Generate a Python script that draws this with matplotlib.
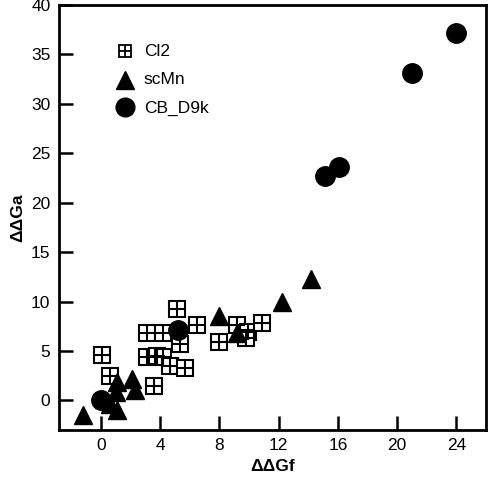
import matplotlib.pyplot as plt

plt.rcParams['font.family'] = ['Liberation Sans', 'DejaVu Sans']

# Cl2 points
cl2_x = [0.1, 0.6, 3.1, 4.2, 3.1, 3.8, 4.2, 4.65, 5.7, 3.6, 5.1, 6.5, 5.3, 8.0, 9.2, 9.9, 9.8, 10.9]
cl2_y = [4.6, 2.5, 6.8, 6.8, 4.4, 4.5, 4.4, 3.5, 3.3, 1.5, 9.2, 7.6, 5.7, 5.9, 7.6, 6.9, 6.3, 7.8]

# scMn points
scmn_x = [-1.2, 1.1, 2.1, 2.3, 1.0, 1.1, 0.6, 8.0, 9.2, 12.2, 14.2]
scmn_y = [-1.5, 1.9, 2.2, 1.1, 0.8, -1.0, -0.4, 8.5, 6.8, 9.9, 12.3]

# CB_D9k points
cb_x = [0.0, 5.2, 15.1, 16.1, 21.0, 24.0]
cb_y = [0.0, 7.1, 22.7, 23.6, 33.1, 37.1]

xticks = [0, 4, 8, 12, 16, 20, 24]
yticks = [0, 5, 10, 15, 20, 25, 30, 35, 40]

fig = plt.figure(figsize=(4.9, 4.8), dpi=100)
ax = fig.add_axes([0.120, 0.104, 0.872, 0.886])

ax.plot(cl2_x, cl2_y, 's', ms=12, mfc='white', mec='black', mew=1.5, zorder=2)
ax.plot(cl2_x, cl2_y, '+', ms=12, mec='black', mew=1.5, zorder=2)
ax.plot(scmn_x, scmn_y, '^', ms=13.5, color='black', zorder=3)
ax.plot(cb_x, cb_y, 'o', ms=14, color='black', zorder=4)

# legend drawn by hand to get the combined square/plus glyph
leg_x, leg_t = 1.6, 2.9
ax.plot([leg_x], [35.3], 's', ms=9, mfc='white', mec='black', mew=1.3)
ax.plot([leg_x], [35.3], '+', ms=9, mec='black', mew=1.3)
ax.plot([leg_x], [32.4], '^', ms=13, color='black')
ax.plot([leg_x], [29.7], 'o', ms=13.5, color='black')
for yy, lab in zip([35.3, 32.4, 29.5], ['Cl2', 'scMn', 'CB_D9k']):
    ax.text(leg_t, yy, lab, fontsize=12.5, va='center', ha='left')

ax.set_xlim(-2.85, 26.0)
ax.set_ylim(-3.0, 40.0)
ax.set_xticks(xticks)
ax.set_yticks(yticks)
ax.tick_params(direction='in', length=10, width=1.8, labelsize=12.5, pad=6)
for s in ax.spines.values():
    s.set_linewidth(2)

ax.set_xlabel('ΔΔGf', fontsize=12.5, fontweight='bold', labelpad=4)
ax.set_ylabel('ΔΔGa', fontsize=12.5, fontweight='bold', labelpad=4)

fig.savefig('out.png', dpi=100)
